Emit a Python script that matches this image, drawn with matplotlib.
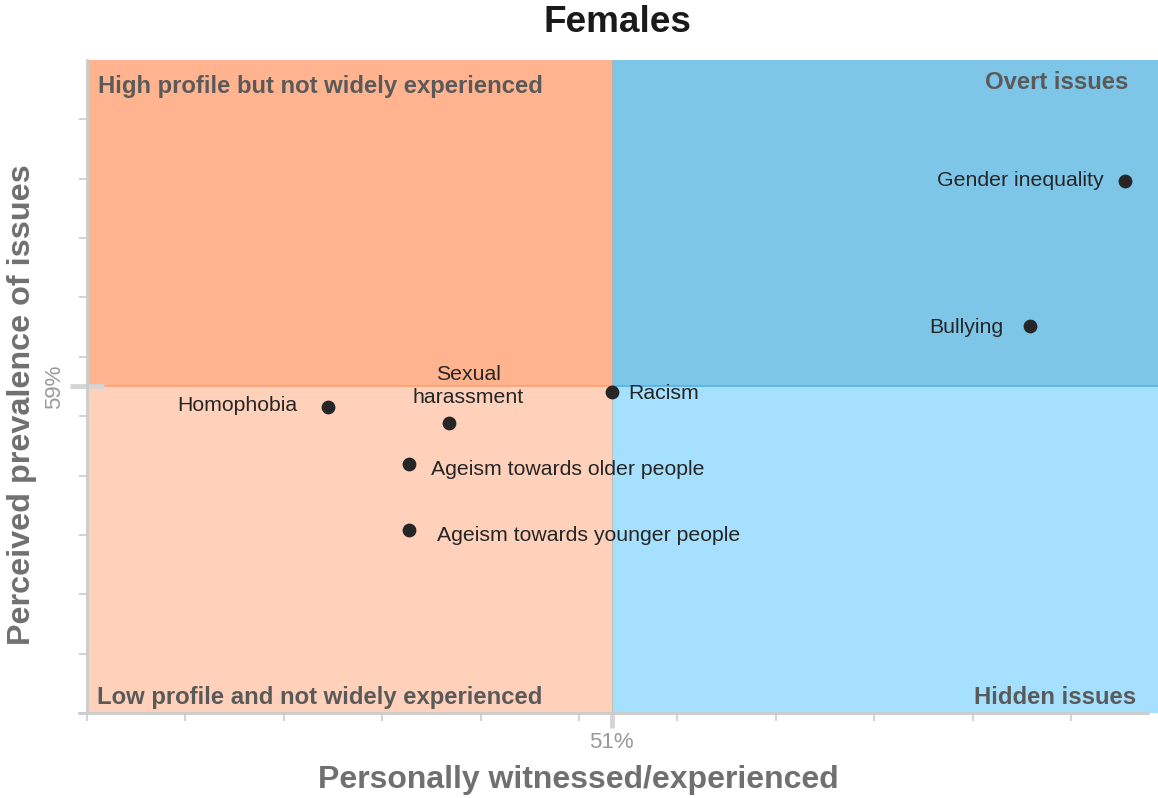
import matplotlib
matplotlib.use('Agg')
import matplotlib.pyplot as plt

plt.rcParams['font.family'] = ['Liberation Sans', 'DejaVu Sans']

# Data (percent)
issues = ['Gender inequality', 'Bullying', 'Racism', 'Homophobia',
          'Sexual\nharassment', 'Ageism towards older people',
          'Ageism towards younger people']
witnessed = [66.64, 63.74, 51.0, 42.34, 46.03, 44.81, 44.81]
perceived = [65.93, 61.04, 58.82, 58.30, 57.76, 56.39, 54.18]

# label offsets in points and alignment
offsets = [(-15, 0), (-19, -1), (12, -1), (-22, 1), (14, 27), (16, -4), (20, -4)]
aligns = ['right', 'right', 'left', 'right', 'center', 'left', 'left']

x_mid, y_mid = 51, 59
x_min, x_max = 35, 67.65
y_min, y_max = 48, 70

quadrant_names = ['High profile but not widely experienced', 'Overt issues',
                  'Low profile and not widely experienced', 'Hidden issues']

fig = plt.figure(figsize=(11.58, 7.98), dpi=100)
ax = fig.add_axes([87 / 1158, 85 / 798, 1071 / 1158, 653 / 798])
ax.set_xlim(x_min, x_max)
ax.set_ylim(y_min, y_max)

# quadrant backgrounds
ax.fill_between([x_min, x_mid], y_mid, y_max, color='#FFB48F', lw=0, zorder=0)
ax.fill_between([x_mid, x_max], y_mid, y_max, color='#7EC6E8', lw=0, zorder=0)
ax.fill_between([x_min, x_mid], y_min, y_mid, color='#FFD1BA', lw=0, zorder=0)
ax.fill_between([x_mid, x_max], y_min, y_mid, color='#A6E0FF', lw=0, zorder=0)
ax.plot([x_min, x_mid], [y_mid, y_mid], color='#FFA073', lw=1.2, zorder=1)
ax.plot([x_mid, x_max], [y_mid, y_mid], color='#52B4E4', lw=1.2, zorder=1)
ax.plot([x_mid, x_mid], [y_min, y_max], color='#D9A58C', lw=0.8, alpha=0.6, zorder=1)

# quadrant labels
qstyle = dict(transform=ax.transAxes, fontsize=17.2, fontweight='bold',
              color='#5A5A5A', va='center')
ax.text(0.0103, 0.960, quadrant_names[0], ha='left', **qstyle)
ax.text(0.972, 0.965, quadrant_names[1], ha='right', **qstyle)
ax.text(0.0093, 0.0235, quadrant_names[2], ha='left', **qstyle)
ax.text(0.9795, 0.0235, quadrant_names[3], ha='right', **qstyle)

# points
ax.scatter(witnessed, perceived, s=80, color='#262626', zorder=3)
for name, xv, yv, off, ha in zip(issues, witnessed, perceived, offsets, aligns):
    ax.annotate(name, (xv, yv), xytext=off, textcoords='offset points',
                ha=ha, va='center', fontsize=15.3, color='#262626',
                linespacing=1.25, zorder=4)

# axes styling
for side in ['top', 'right']:
    ax.spines[side].set_visible(False)
for side in ['left', 'bottom']:
    ax.spines[side].set_color('#CCCCCC')
    ax.spines[side].set_linewidth(2)
ax.spines['bottom'].set_bounds(x_min - 0.25, x_max - 0.3)

ax.set_xticks(range(35, 66, 3), minor=True)
ax.set_yticks(range(48, 69, 2), minor=True)
ax.set_xticks([x_mid])
ax.set_yticks([y_mid])
ax.set_xticklabels(['51%'])
ax.set_yticklabels(['59%'], rotation=90, va='center')
ax.tick_params(which='minor', direction='out', length=6, width=1.2, color='#CCCCCC')
ax.tick_params(axis='x', which='major', direction='out', length=11, width=3.5,
               color='#D5D5D5', labelsize=16, labelcolor='#999999', pad=3)
ax.tick_params(axis='y', which='major', direction='inout', length=25, width=3.5,
               color='#D5D5D5', labelsize=16, labelcolor='#999999', pad=3)

fig.text(578 / 1158, 1 - 780 / 798, 'Personally witnessed/experienced',
         ha='center', va='center', fontsize=23, fontweight='bold', color='#707070')
fig.text(22 / 1158, 1 - 405 / 798, 'Perceived prevalence of issues', rotation=90,
         ha='center', va='center', fontsize=23.3, fontweight='bold', color='#707070')
fig.text(617 / 1158, 1 - 22 / 798, 'Females', ha='center', va='center',
         fontsize=26.6, fontweight='bold', color='#1A1A1A')

fig.savefig('out.png', dpi=100)
